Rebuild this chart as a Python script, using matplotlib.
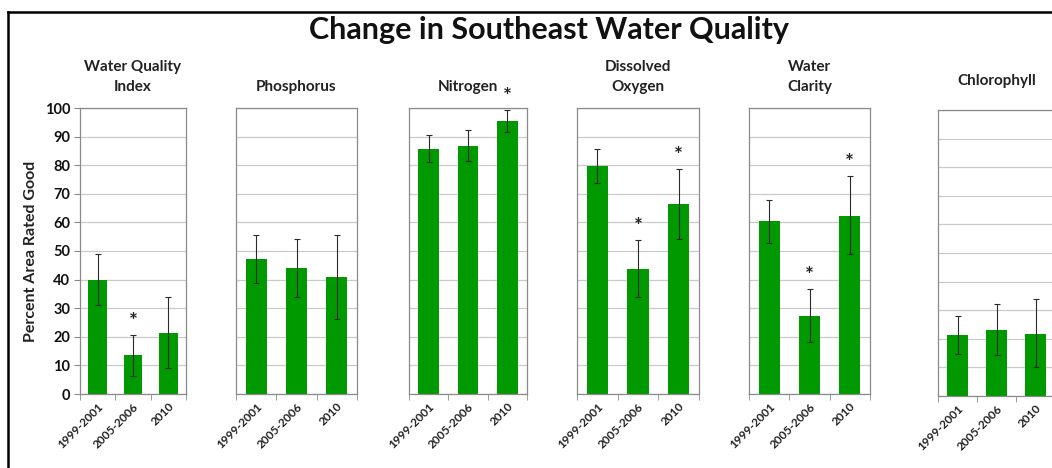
import numpy as np
import matplotlib
matplotlib.use("Agg")
import matplotlib.pyplot as plt
from matplotlib.lines import Line2D

plt.rcParams["font.family"] = ["Lato", "DejaVu Sans"]

periods = ["1999-2001", "2005-2006", "2010"]
indicators = ["Water Quality\nIndex", "Phosphorus", "Nitrogen",
              "Dissolved\nOxygen", "Water\nClarity", "Chlorophyll"]

# percent area rated good, with lower / upper error bar ends
good = [
    [40.0, 13.5, 21.5],
    [47.2, 44.2, 40.8],
    [85.8, 86.8, 95.3],
    [79.8, 43.8, 66.5],
    [60.4, 27.4, 62.4],
    [21.2, 23.0, 21.6],
]
err_low = [
    [31.2, 6.3, 9.1],
    [38.7, 34.0, 26.3],
    [81.0, 81.4, 91.6],
    [73.8, 33.8, 54.3],
    [52.8, 18.1, 49.0],
    [14.8, 14.3, 10.2],
]
err_high = [
    [48.8, 20.7, 33.9],
    [55.6, 54.3, 55.6],
    [90.4, 92.2, 99.4],
    [85.8, 53.8, 78.8],
    [67.9, 36.7, 76.3],
    [28.0, 32.0, 33.8],
]
significant = [
    [False, True, False],
    [False, False, False],
    [False, False, True],
    [False, True, True],
    [False, True, True],
    [False, False, False],
]

W, H = 1052, 468
# panel pixel boxes: left, right, top, bottom
boxes = [(80, 186, 108, 394), (236, 357, 108, 394), (409, 527, 108, 394),
         (577, 699, 108, 394), (749, 870, 108, 394), (938, 1055, 110, 396)]
title_pads = [12, 12, 12, 12, 12, 18]

bar_green = "#009a00"
grid_gray = "#cacaca"
spine_gray = "#8a8a8a"

fig = plt.figure(figsize=(W / 100, H / 100), dpi=100)

for i, (name, (l, r, t, b)) in enumerate(zip(indicators, boxes)):
    ax = fig.add_axes([l / W, 1 - b / H, (r - l) / W, (b - t) / H])
    x = np.arange(len(periods))
    vals = np.array(good[i])
    lo = vals - np.array(err_low[i])
    hi = np.array(err_high[i]) - vals
    ax.bar(x, vals, width=0.52, color=bar_green, zorder=2)
    ax.errorbar(x, vals, yerr=[lo, hi], fmt="none", ecolor="#2a2a2a",
                elinewidth=0.8, capsize=2.5, capthick=0.8, zorder=3)
    for xi, sig, top in zip(x, significant[i], err_high[i]):
        if sig:
            ax.text(xi, top + 1.0, "*", ha="center", va="bottom",
                    fontsize=15, fontweight="bold", color="#222222")

    ax.set_xlim(-0.5, 2.5)
    ax.set_ylim(0, 100)
    ax.set_yticks(np.arange(0, 101, 10))
    ax.yaxis.grid(True, color=grid_gray, linewidth=0.9, zorder=0)
    ax.set_axisbelow(True)
    for s in ax.spines.values():
        s.set_color(spine_gray)
        s.set_linewidth(0.9)

    ax.set_xticks(x)
    ax.set_xticklabels(periods, rotation=45, ha="right", rotation_mode="anchor",
                       fontsize=8.5, fontweight="bold", color="#222222")
    ax.set_xticks([-0.5, 0.5, 1.5, 2.5], minor=True)
    ax.tick_params(axis="x", which="major", length=0, pad=5)
    ax.tick_params(axis="x", which="minor", length=4, color=spine_gray,
                   direction="out")
    if i == 0:
        ax.tick_params(axis="y", length=4, color=spine_gray, labelsize=10.5,
                       labelcolor="#111111", pad=3)
        for lab in ax.get_yticklabels():
            lab.set_fontweight("bold")
        ax.set_ylabel("Percent Area Rated Good", fontsize=11.5, fontweight="bold",
                      color="#222222", labelpad=5)
    else:
        ax.tick_params(axis="y", length=0, labelleft=False)

    ax.set_title(name, fontsize=11, fontweight="bold", color="#222222",
                 pad=title_pads[i], linespacing=1.6)

fig.text(0.522, 0.935, "Change in Southeast Water Quality", ha="center",
         va="center", fontsize=22, fontweight="bold", color="#111111")

# outer frame (top and left edges)
fig.add_artist(Line2D([8 / W, 1.0], [1 - 12 / H, 1 - 12 / H],
                      color="black", linewidth=1.8, transform=fig.transFigure))
fig.add_artist(Line2D([8 / W, 8 / W], [0.0, 1 - 12 / H],
                      color="black", linewidth=1.8, transform=fig.transFigure))

fig.savefig("out.png", dpi=100)
